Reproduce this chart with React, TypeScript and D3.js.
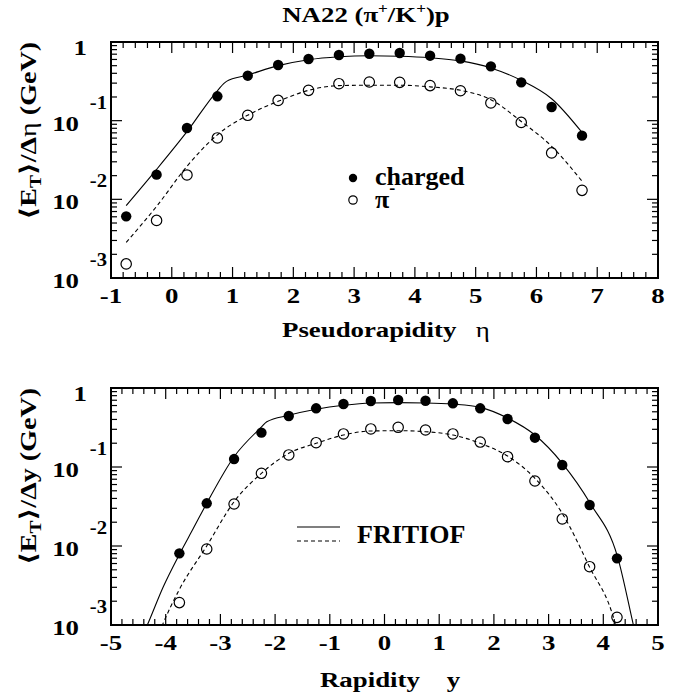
import React from 'react';
import * as d3 from 'd3';

// ---------- data: pseudorapidity panel ----------
const etaX = [-0.75, -0.25, 0.25, 0.75, 1.25, 1.75, 2.25, 2.75, 3.25, 3.75, 4.25, 4.75, 5.25, 5.75, 6.25, 6.75];
const etaCharged = [0.00608, 0.0206, 0.0807, 0.204, 0.373, 0.51, 0.608, 0.684, 0.71, 0.725, 0.67, 0.614, 0.49, 0.307, 0.149, 0.0645];
const etaPiMinus = [0.00151, 0.0054, 0.0204, 0.0603, 0.117, 0.181, 0.243, 0.295, 0.31, 0.307, 0.279, 0.24, 0.168, 0.095, 0.0389, 0.013];
const etaFritiofChX = [-0.75, -0.25, 0.25, 0.75, 0.9, 1.25, 1.75, 2.25, 2.75, 3.25, 3.75, 4.25, 4.75, 5.25, 5.75, 6.25, 6.75];
const etaFritiofCh = [0.00832, 0.024, 0.0724, 0.24, 0.316, 0.38, 0.501, 0.596, 0.65, 0.67, 0.66, 0.631, 0.575, 0.468, 0.325, 0.19, 0.0708];
const etaFritiofPiX = [-0.75, -0.25, 0.25, 0.75, 1.25, 1.75, 2.25, 2.75, 3.25, 3.75, 4.25, 4.75, 5.25, 5.75, 6.25, 6.75];
const etaFritiofPi = [0.00284, 0.00813, 0.0263, 0.0661, 0.1175, 0.176, 0.243, 0.279, 0.282, 0.282, 0.269, 0.243, 0.185, 0.0977, 0.0471, 0.017];
const etaTicks = [-1, 0, 1, 2, 3, 4, 5, 6, 7, 8];

// ---------- data: rapidity panel ----------
const yX = [-3.75, -3.25, -2.75, -2.25, -1.75, -1.25, -0.75, -0.25, 0.25, 0.75, 1.25, 1.75, 2.25, 2.75, 3.25, 3.75, 4.25];
const yCharged = [0.00807, 0.0347, 0.126, 0.272, 0.442, 0.553, 0.627, 0.684, 0.705, 0.69, 0.64, 0.553, 0.405, 0.235, 0.106, 0.033, 0.00698];
const yPiMinus = [0.00192, 0.00916, 0.034, 0.0832, 0.142, 0.203, 0.262, 0.303, 0.318, 0.294, 0.262, 0.207, 0.135, 0.0665, 0.022, 0.00547, 0.00125];
const yFritiofChX = [-4.4, -4.336, -4.044, -3.756, -3.494, -3.25, -2.75, -2.244, -2.152, -1.75, -1.25, -0.75, -0.25, 0.25, 0.75, 1.25, 1.75, 2.26, 2.75, 3.25, 3.76, 4.26, 4.55, 4.6];
const yFritiofCh = [0.000794, 0.001, 0.00305, 0.00769, 0.01675, 0.0347, 0.135, 0.3236, 0.374, 0.451, 0.537, 0.604, 0.646, 0.652, 0.646, 0.624, 0.569, 0.413, 0.254, 0.1114, 0.0347, 0.00733, 0.001, 0.000708];
const yFritiofPiX = [-4.12, -4.06, -3.756, -3.25, -2.75, -2.25, -1.75, -1.25, -0.75, -0.25, 0.25, 0.75, 1.25, 1.75, 2.25, 2.75, 3.25, 3.73, 4.22, 4.26];
const yFritiofPi = [0.000794, 0.001, 0.00277, 0.01, 0.0363, 0.0832, 0.149, 0.1995, 0.254, 0.2858, 0.288, 0.28, 0.254, 0.1995, 0.1377, 0.0719, 0.0259, 0.00575, 0.00102, 0.000794];
const yTicks = [-5, -4, -3, -2, -1, 0, 1, 2, 3, 4, 5];

const decades = [0, -1, -2, -3];

const FONT = "'Liberation Serif', 'Times New Roman', Times, 'DejaVu Serif', serif";
const SX = 1.22;
const L = 111;
const R = 658;

function T({ x, y, rot = 0, sx = SX, anchor = 'start', size = 22, weight = 'bold', children }: any) {
  return (
    <text
      transform={`translate(${x},${y}) rotate(${rot}) scale(${sx},1)`}
      textAnchor={anchor}
      style={{ fontFamily: FONT, fontSize: `${size}px`, fontWeight: weight }}
      fill="#000"
    >
      {children}
    </text>
  );
}

function Panel({ id, top, bottom, xDomain, xTicks, px, charged, pim, cX, cY, dX, dY, yVar, xTitle }: any) {
  const x = d3.scaleLinear().domain(xDomain).range([L, R]);
  const y = d3.scaleLog().domain([0.001, 1]).range([bottom, top]);
  const line = d3
    .line<[number, number]>()
    .x((d) => x(d[0]))
    .y((d) => y(d[1]))
    .curve(d3.curveMonotoneX);
  const solid = line(cX.map((v: number, i: number) => [v, cY[i]]) as any) || '';
  const dashed = line(dX.map((v: number, i: number) => [v, dY[i]]) as any) || '';

  const minorX: number[] = [];
  for (let v = xDomain[0]; v <= xDomain[1] + 1e-9; v += 0.2) {
    const r = Math.round(v * 10) / 10;
    if (Math.abs(r - Math.round(r)) > 1e-6) minorX.push(r);
  }
  const minorY: number[] = [];
  [-3, -2, -1].forEach((d) => {
    for (let k = 2; k <= 9; k++) minorY.push(k * Math.pow(10, d));
  });

  const ticks: any[] = [];
  xTicks.forEach((t: number, i: number) => {
    const xx = x(t);
    ticks.push(<line key={`xb${i}`} x1={xx} x2={xx} y1={bottom} y2={bottom - 11} />);
    ticks.push(<line key={`xt${i}`} x1={xx} x2={xx} y1={top} y2={top + 11} />);
  });
  minorX.forEach((t, i) => {
    const xx = x(t);
    ticks.push(<line key={`mxb${i}`} x1={xx} x2={xx} y1={bottom} y2={bottom - 6} />);
    ticks.push(<line key={`mxt${i}`} x1={xx} x2={xx} y1={top} y2={top + 6} />);
  });
  decades.forEach((d, i) => {
    const yy = y(Math.pow(10, d));
    ticks.push(<line key={`yl${i}`} x1={L} x2={L + 11} y1={yy} y2={yy} />);
    ticks.push(<line key={`yr${i}`} x1={R} x2={R - 11} y1={yy} y2={yy} />);
  });
  minorY.forEach((v, i) => {
    const yy = y(v);
    ticks.push(<line key={`myl${i}`} x1={L} x2={L + 6} y1={yy} y2={yy} />);
    ticks.push(<line key={`myr${i}`} x1={R} x2={R - 6} y1={yy} y2={yy} />);
  });

  return (
    <g>
      <defs>
        <clipPath id={`clip${id}`}>
          <rect x={L} y={top} width={R - L} height={bottom - top} />
        </clipPath>
      </defs>
      <g clipPath={`url(#clip${id})`} fill="none" stroke="#000" strokeWidth={1.1}>
        <path d={solid} />
        <path d={dashed} strokeDasharray="4,3" />
      </g>
      {px.map((v: number, i: number) => (
        <circle key={`c${i}`} cx={x(v)} cy={y(charged[i])} r={5.2} fill="#000" />
      ))}
      {px.map((v: number, i: number) => (
        <circle key={`o${i}`} cx={x(v)} cy={y(pim[i])} r={5.2} fill="none" stroke="#000" strokeWidth={1.2} />
      ))}
      <g stroke="#000" strokeWidth={1.2}>{ticks}</g>
      <rect x={L} y={top} width={R - L} height={bottom - top} fill="none" stroke="#000" strokeWidth={2} />
      {decades.map((d, i) => {
        const yy = y(Math.pow(10, d));
        if (d === 0)
          return (
            <T key={`yl${i}`} x={87} y={yy + 13} anchor="end">
              1
            </T>
          );
        return (
          <g key={`yl${i}`}>
            <T x={79} y={yy + 10} anchor="end">
              10
            </T>
            <T x={107} y={yy - 12} anchor="end" size={18} sx={1.15}>
              {String(d)}
            </T>
          </g>
        );
      })}
      {xTicks.map((t: number, i: number) => (
        <T key={`xl${i}`} x={x(t)} y={bottom + 25} anchor="middle">
          {String(t)}
        </T>
      ))}
      {xTitle}
      <T x={36} y={top} rot={-90} anchor="end" size={23}>
        {'\u27E8E'}
        <tspan style={{ fontSize: '16px' }} dy={5}>
          T
        </tspan>
        <tspan dy={-5}>{'\u27E9/\u0394'}</tspan>
        <tspan style={{ fontWeight: yVar === 'y' ? 'bold' : 'normal' }}>{yVar}</tspan>
        <tspan>{' (GeV)'}</tspan>
      </T>
    </g>
  );
}

export default function App() {
  return (
    <svg width={691} height={699} style={{ display: 'block', position: 'absolute', left: 0, top: 0, background: '#fff' }}>
      <rect x={0} y={0} width={691} height={699} fill="#fff" />
      <T x={366} y={22} anchor="middle">
        {'NA22 (\u03C0'}
        <tspan style={{ fontSize: '14px' }} dy={-9}>
          +
        </tspan>
        <tspan dy={9}>/K</tspan>
        <tspan style={{ fontSize: '14px' }} dy={-9}>
          +
        </tspan>
        <tspan dy={9}>)p</tspan>
      </T>
      <Panel
        id="a"
        top={42}
        bottom={278}
        xDomain={[-1, 8]}
        xTicks={etaTicks}
        px={etaX}
        charged={etaCharged}
        pim={etaPiMinus}
        cX={etaFritiofChX}
        cY={etaFritiofCh}
        dX={etaFritiofPiX}
        dY={etaFritiofPi}
        yVar={'\u03B7'}
        xTitle={
          <T x={282} y={337}>
            Pseudorapidity
            <tspan dx={16} style={{ fontWeight: 'normal' }}>
              {'\u03B7'}
            </tspan>
          </T>
        }
      />
      <Panel
        id="b"
        top={388}
        bottom={625}
        xDomain={[-5, 5]}
        xTicks={yTicks}
        px={yX}
        charged={yCharged}
        pim={yPiMinus}
        cX={yFritiofChX}
        cY={yFritiofCh}
        dX={yFritiofPiX}
        dY={yFritiofPi}
        yVar="y"
        xTitle={
          <T x={320} y={687}>
            Rapidity
            <tspan dx={22}>y</tspan>
          </T>
        }
      />
      <circle cx={353} cy={178} r={4.2} fill="#000" />
      <circle cx={353} cy={200} r={4.2} fill="none" stroke="#000" strokeWidth={1.2} />
      <T x={375} y={185} size={26} sx={1}>
        charged
      </T>
      <T x={375} y={208} size={26} sx={1}>
        {'\u03C0'}
        <tspan style={{ fontSize: '18px' }} dy={-14}>
          -
        </tspan>
      </T>
      <line x1={297} x2={340} y1={527} y2={527} stroke="#000" strokeWidth={1.1} />
      <line x1={297} x2={340} y1={541} y2={541} stroke="#000" strokeWidth={1.1} strokeDasharray="4,3" />
      <T x={357} y={543} size={26} sx={1}>
        FRITIOF
      </T>
    </svg>
  );
}
